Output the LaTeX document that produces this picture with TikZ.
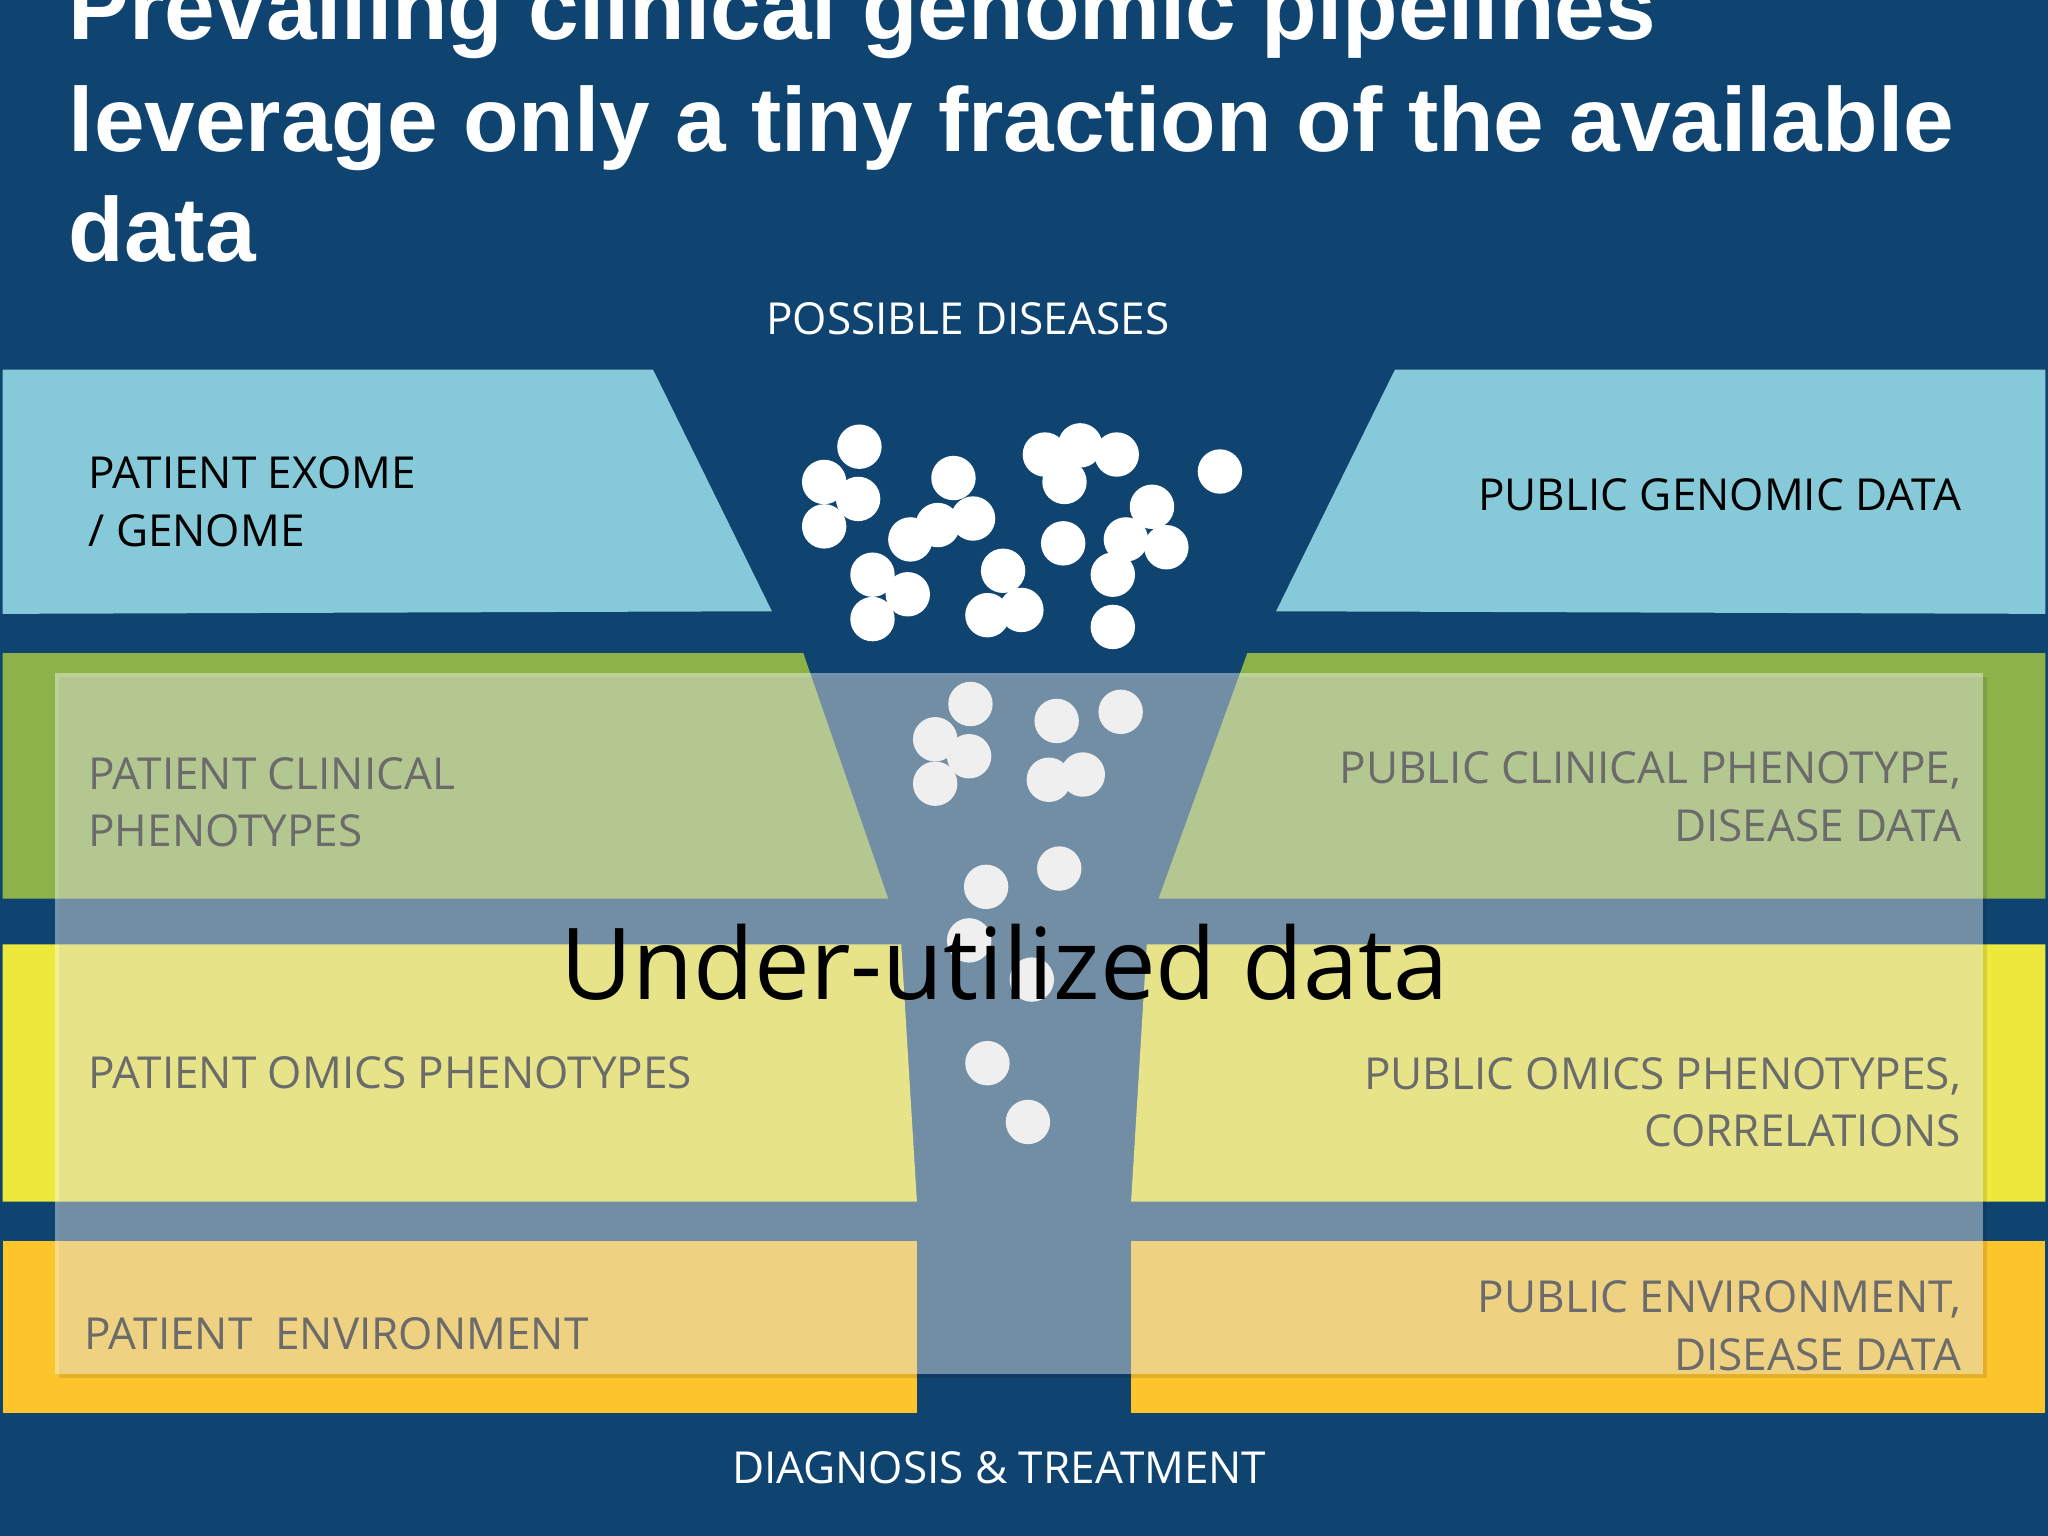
\documentclass[tikz,border=0pt]{standalone}
\usepackage{fontspec}
\setmainfont{Open Sans}
\newfontfamily\titlefont{Liberation Sans}
\begin{document}
\begin{tikzpicture}[x=0.01cm,y=-0.01cm,
  lbl/.style={font=\fontsize{9.6}{12.5}\selectfont, text=black, inner sep=0},
  wlbl/.style={font=\fontsize{9.6}{12}\selectfont, text=white, inner sep=0},
  ttl/.style={font=\titlefont\bfseries\fontsize{19.8}{22}\selectfont, text=white, inner sep=0, anchor=base west},
  dot/.style={fill=white, draw=none}]
\definecolor{bg}{HTML}{0F4470}
\definecolor{lblue}{HTML}{86C9D8}
\definecolor{lgreen}{HTML}{8DB24A}
\definecolor{lyellow}{HTML}{EDE83C}
\definecolor{lorange}{HTML}{FDC52C}
\fill[bg] (0,0) rectangle (1568,1176);
\useasboundingbox (0,0) rectangle (1568,1176);
% title
\node[ttl] (t1) at (52,30) {Prevailing clinical genomic pipelines};
\node[ttl] (t2) at (52,116) {leverage only a tiny fraction of the available};
\node[ttl] (t3) at (52,200) {data};
% bands
\fill[lblue] (2,283)--(500,283)--(591,468)--(2,470)--cycle;
\fill[lblue] (1068,283)--(1566,283)--(1566,470)--(977,468)--cycle;
\fill[lgreen] (2,500)--(615,500)--(680,688)--(2,688)--cycle;
\fill[lgreen] (955,500)--(1566,500)--(1566,688)--(887,688)--cycle;
\fill[lyellow] (2,723)--(690,723)--(702,920)--(2,920)--cycle;
\fill[lyellow] (878,723)--(1566,723)--(1566,920)--(866,920)--cycle;
\fill[lorange] (2,950)--(702,950)--(702,1082)--(2,1082)--cycle;
\fill[lorange] (866,950)--(1566,950)--(1566,1082)--(866,1082)--cycle;
% labels
\node[wlbl] (pd) at (741,244) {POSSIBLE DISEASES};
\node[wlbl] (dt) at (765,1124) {DIAGNOSIS \& TREATMENT};
\node[lbl, anchor=west, align=left] (pe) at (67,384) {PATIENT EXOME\\/ GENOME};
\node[lbl, anchor=east] (pg) at (1502,379) {PUBLIC GENOMIC DATA};
\node[lbl, anchor=west, align=left] (pc) at (67,614) {PATIENT CLINICAL\\PHENOTYPES};
\node[lbl, anchor=east, align=right] (pcp) at (1502,610) {PUBLIC CLINICAL PHENOTYPE,\\DISEASE DATA};
\node[lbl, anchor=west] (po) at (67,821) {PATIENT OMICS PHENOTYPES};
\node[lbl, anchor=east, align=right] (pop) at (1502,844) {PUBLIC OMICS PHENOTYPES,\\CORRELATIONS};
\node[lbl, anchor=west] (pen) at (64,1021) {PATIENT\ \ ENVIRONMENT};
\node[lbl, anchor=east, align=right] (pen2) at (1502,1015) {PUBLIC ENVIRONMENT,\\DISEASE DATA};
% dots
\foreach \p in {(658,342),(631,369),(657,382),(631,403),(730,366),(745,397),(718,402),(697,413),(800,348),(827,341),(855,348),(815,369),(882,388),(862,413),(893,419),(814,416),(934,361),(768,437),(668,440),(695,455),(852,440),(668,474),(756,471),(782,467),(852,480),
 (743,539),(716,566),(742,579),(716,600),(809,552),(858,545),(803,597),(829,593),(755,679),(811,665),(742,720),(790,750),(756,814),(787,859)}
  \fill[dot] \p circle (17);
% overlay
\fill[black, opacity=0.1] (45,518) rectangle (1521,1055);
\fill[white, opacity=0.42] (42,515) rectangle (1518,1052);
\node[font=\fontsize{21.6}{26}\selectfont, text=black, inner sep=0] (ud) at (769,737) {Under-utilized data};
\end{tikzpicture}
\end{document}
